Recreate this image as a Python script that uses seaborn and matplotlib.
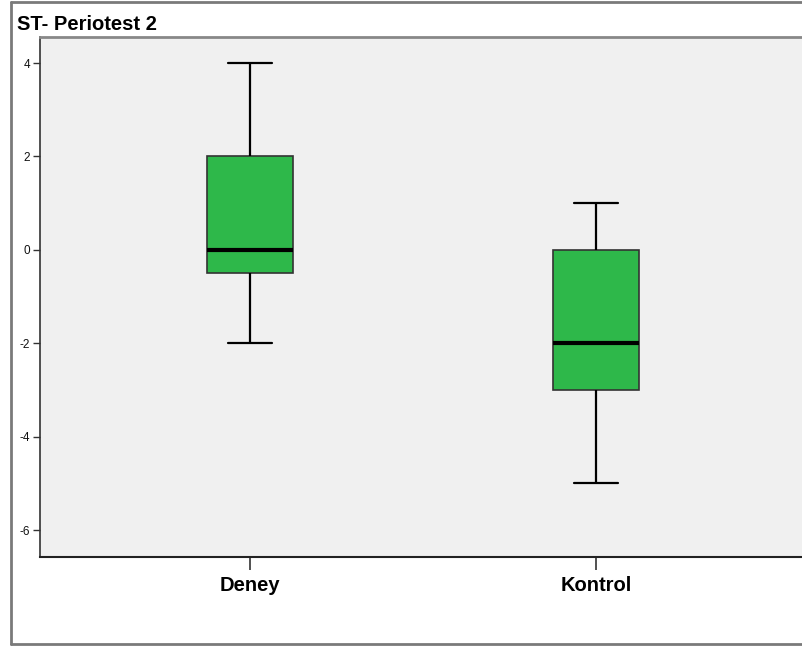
import matplotlib
matplotlib.use("Agg")
import matplotlib.pyplot as plt
import matplotlib.lines as mlines
import seaborn as sns
import pandas as pd

# Five-number summaries per group (min, Q1, median, Q3, max)
groups = ["Deney", "Kontrol"]
deney = [-2, -0.5, 0, 2, 4]
kontrol = [-5, -3, -2, 0, 1]
y_ticks = [4, 2, 0, -2, -4, -6]
title = "ST- Periotest 2"

df = pd.DataFrame({
    "grup": [groups[0]] * len(deney) + [groups[1]] * len(kontrol),
    "deger": deney + kontrol,
})

sns.set_style("white")
plt.rcParams["font.family"] = ["Liberation Sans", "DejaVu Sans"]
plt.rcParams["text.color"] = "black"
plt.rcParams["xtick.color"] = "black"
plt.rcParams["ytick.color"] = "black"

fig = plt.figure(figsize=(8.03, 6.48), dpi=100)
ax = fig.add_axes([40 / 803, 91 / 648, 766 / 803, 520 / 648])
ax.set_facecolor("#f0f0f0")

sns.boxplot(
    data=df, x="grup", y="deger", order=groups, ax=ax,
    width=0.25, color="#2eb84a", saturation=1, whis=1.5,
    linewidth=1.6, linecolor="#111111",
    boxprops=dict(edgecolor="#333333", linewidth=1.2),
    medianprops=dict(color="black", linewidth=3),
    whiskerprops=dict(color="black", linewidth=1.6),
    capprops=dict(color="black", linewidth=1.6),
)

ax.set_xlim(-0.607, 1.607)
ax.set_ylim(-6.578, 4.557)
ax.set_yticks(y_ticks)
ax.set_yticklabels([str(t) for t in y_ticks], fontsize=8.5, color="#111111")
ax.set_xticks(range(len(groups)))
ax.set_xticklabels(groups, fontsize=14.5, fontweight="bold", color="black")
ax.set_xlabel("")
ax.set_ylabel("")
ax.tick_params(axis="y", direction="out", length=5, width=1, color="#333333", pad=2, left=True)
ax.tick_params(axis="x", direction="out", length=9, width=1.2, color="#333333", pad=5, bottom=True)

for side in ["top", "left", "bottom"]:
    ax.spines[side].set_visible(True)
ax.spines["right"].set_visible(False)
ax.spines["top"].set_color("#888888")
ax.spines["top"].set_linewidth(2)
ax.spines["left"].set_color("#333333")
ax.spines["left"].set_linewidth(1.2)
ax.spines["bottom"].set_color("#222222")
ax.spines["bottom"].set_linewidth(1.5)

fig.text(17 / 803, 1 - 24 / 648, title, fontsize=14.5, fontweight="bold",
         va="center", ha="left", color="black")

# Outer chart frame
frame_kw = dict(color="#7a7a7a", linewidth=2, transform=fig.transFigure)
fig.add_artist(mlines.Line2D([11 / 803, 1], [1 - 1.5 / 648, 1 - 1.5 / 648], **frame_kw))
fig.add_artist(mlines.Line2D([11 / 803, 11 / 803], [1 - 1.5 / 648, 1 - 644 / 648], **frame_kw))
fig.add_artist(mlines.Line2D([11 / 803, 1], [1 - 644 / 648, 1 - 644 / 648], **frame_kw))

fig.savefig("out.png", dpi=100)
